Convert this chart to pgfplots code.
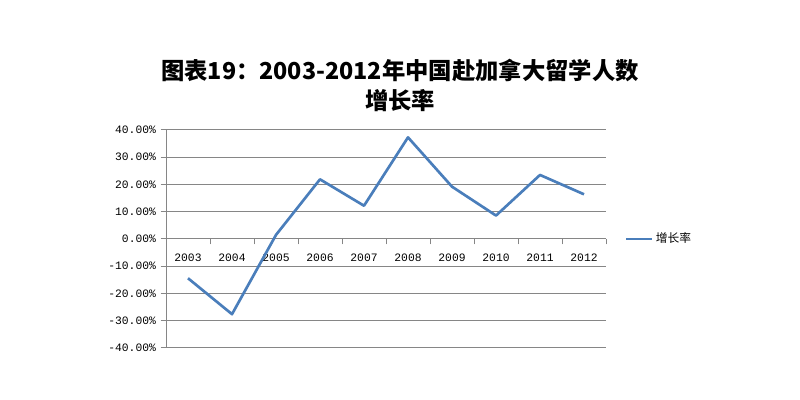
\documentclass[border=0pt]{standalone}
\usepackage{fontspec}
\setmainfont{Noto Sans CJK SC}
\newfontfamily\cjk{Noto Sans CJK SC}
\newfontfamily\monofont{Liberation Mono}
\usepackage{pgfplots}
\pgfplotsset{compat=1.18}
\definecolor{linebl}{HTML}{4A7EBB}
\definecolor{gridgr}{HTML}{868686}
\begin{document}
\begin{tikzpicture}
\path[use as bounding box] (0pt,0pt) rectangle (600pt,300pt);
\node[align=center,font={\fontsize{17.5pt}{23pt}\selectfont\bfseries\cjk}] at (300pt,236pt) {图表19：2003-2012年中国赴加拿大留学人数\\增长率};
\begin{axis}[
  at={(124.5pt,202.5pt)}, anchor=north west,
  scale only axis, width=330pt, height=163.5pt,
  xmin=-0.5, xmax=9.5, ymin=-40, ymax=40,
  axis x line=middle, axis y line=left,
  axis line style={gridgr, line width=0.75pt, -},
  xtick={0,...,9},
  xticklabels={2003,2004,2005,2006,2007,2008,2009,2010,2011,2012},
  minor xtick={-0.5,0.5,...,9.5},
  major x tick style={draw=none},
  minor x tick style={gridgr, line width=0.75pt},
  minor tick length=4pt,
  tick align=outside,
  ytick={-40,-30,...,40},
  yticklabels={-40.00\%,-30.00\%,-20.00\%,-10.00\%,0.00\%,10.00\%,20.00\%,30.00\%,40.00\%},
  major y tick style={gridgr, line width=0.75pt},
  major tick length=4pt,
  ymajorgrids, grid style={gridgr, line width=0.75pt},
  ticklabel style={font={\fontsize{8.5pt}{10pt}\selectfont\monofont}},
  xticklabel style={yshift=-4pt},
  /pgf/number format/assume math mode=true,
  legend style={at={(1.033,0.5)}, anchor=west, draw=none, fill=none,
    font={\fontsize{8.8pt}{10pt}\selectfont\cjk}},
  legend cell align=left,
  legend image code/.code={\draw[#1] (0cm,0cm) -- (0.68cm,0cm);},
]
\addplot[linebl, line width=2pt, line join=round] coordinates {
(0,-14.4) (1,-27.6) (2,1.5) (3,21.9) (4,12.2) (5,37.3) (6,19.2) (7,8.6) (8,23.5) (9,16.4)
};
\addlegendentry{增长率}
\end{axis}
\end{tikzpicture}
\end{document}
